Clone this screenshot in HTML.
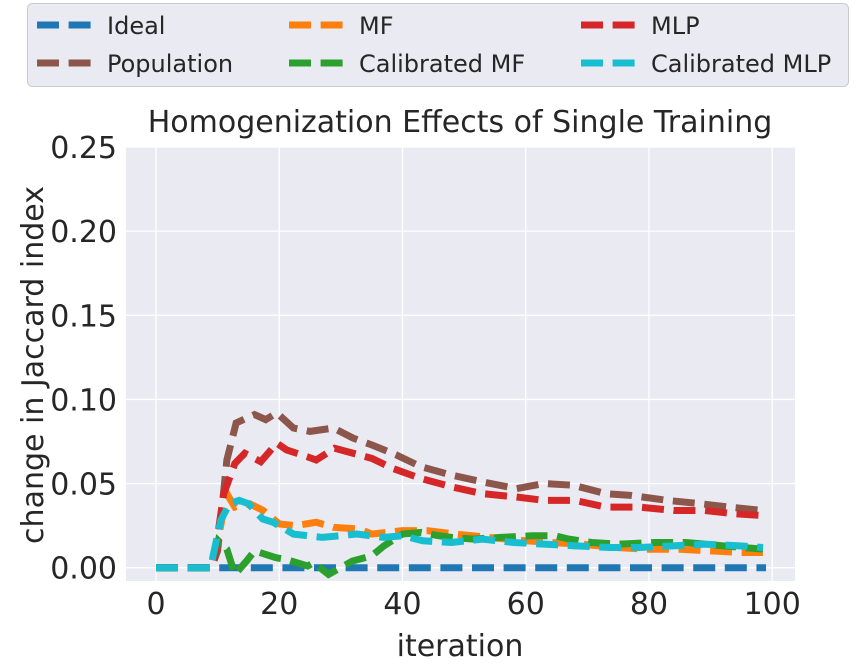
<!DOCTYPE html>
<html><head><meta charset="utf-8">
<style>
body{margin:0;background:#fff;font-family:"DejaVu Sans","Liberation Sans",sans-serif;}
svg text{font-family:"DejaVu Sans","Liberation Sans",sans-serif;fill:#262626;}
</style></head>
<body>
<svg id="chart" width="856" height="668" viewBox="0 0 856 668" xmlns="http://www.w3.org/2000/svg">
<rect x="27.5" y="3.5" width="821" height="83" rx="5" fill="#eaeaf2" stroke="#cccccc"/>
<g id="legend"></g>
<text x="460" y="132" font-size="30" text-anchor="middle">Homogenization Effects of Single Training</text>
<rect x="126" y="147" width="669" height="434" fill="#eaeaf2"/>
<g id="grid"></g>
<g id="series"></g>
<g id="ticks"></g>
<text x="460" y="656" font-size="30" text-anchor="middle">iteration</text>
<text transform="translate(43,365) rotate(-90)" font-size="30" text-anchor="middle">change in Jaccard index</text>
</svg>
<script>
const xTicks=[0,20,40,60,80,100];
const yTicks=[0,0.05,0.10,0.15,0.20,0.25];
const seriesNames=["Ideal","Population","MF","Calibrated MF","MLP","Calibrated MLP"];
const seriesColors=["#1f77b4","#8c564b","#ff7f0e","#2ca02c","#d62728","#17becf"];
const idealX=[0,99];
const idealY=[0,0];
const popX=[0,9,10,11.5,13,16,17.8,19.6,22.3,25,28.8,32,35,39,43,48,53,58.5,63,67.7,73,77,83,88.4,93,98.5];
const popY=[0,0,0.01,0.064,0.086,0.091,0.088,0.092,0.083,0.081,0.083,0.077,0.073,0.067,0.060,0.055,0.051,0.047,0.050,0.049,0.044,0.043,0.040,0.038,0.036,0.034];
const mfX=[0,9,10.5,11.5,12.8,15.2,17.4,20,22.7,26,28.8,33,35,40,44,48.5,54,60,64,69,74.7,79.6,85,90,95,98.5];
const mfY=[0,0,0.025,0.044,0.036,0.038,0.034,0.026,0.025,0.027,0.024,0.023,0.020,0.022,0.022,0.020,0.018,0.016,0.015,0.014,0.012,0.011,0.011,0.010,0.009,0.009];
const calMfX=[0,9,10.1,11.5,12.8,14.7,16,19.4,21,24.6,25.6,28,31.9,35,37,40,43,45.9,48,51.5,56,61,64.7,67,70.7,75,81,86,92,98.5];
const calMfY=[0,0,0.016,0.011,-0.004,0.004,0.010,0.006,0.005,0.001,0.003,-0.004,0.004,0.007,0.013,0.020,0.021,0.019,0.018,0.017,0.018,0.019,0.019,0.017,0.015,0.014,0.015,0.015,0.013,0.011];
const mlpX=[0,9,9.4,11,12.8,14.4,17,19.6,21.2,24.5,26,29,33,35,38.4,43,48,53,58.5,63,68,73,78.5,84,89,94,98.5];
const mlpY=[0,0,0.004,0.044,0.062,0.068,0.063,0.074,0.070,0.066,0.064,0.071,0.067,0.065,0.059,0.053,0.048,0.044,0.042,0.040,0.040,0.036,0.036,0.034,0.034,0.032,0.031];
const calMlpX=[0,9,9.2,10.5,11.9,13.5,15,17.3,19,22.3,27,32.6,37,40,43.3,48,53,58,63,68,73.6,78.5,84,89,94.7,98.5];
const calMlpY=[0,0,0.006,0.028,0.038,0.040,0.038,0.029,0.027,0.020,0.018,0.020,0.018,0.019,0.016,0.015,0.017,0.015,0.014,0.013,0.012,0.012,0.013,0.014,0.013,0.012];

const NS="http://www.w3.org/2000/svg";
const X0=126,X1=795,Y0=147,Y1=581;
const xMin=-4.87,xMax=103.7,yMin=-0.0079,yMax=0.25;
function sx(v){return X0+(v-xMin)/(xMax-xMin)*(X1-X0);}
function sy(v){return Y1-(v-yMin)/(yMax-yMin)*(Y1-Y0);}
const grid=document.getElementById('grid'),ticks=document.getElementById('ticks');
xTicks.forEach(t=>{
  const l=document.createElementNS(NS,'line');
  
  
  l.setAttribute('x1',sx(t));l.setAttribute('x2',sx(t));l.setAttribute('y1',Y0);l.setAttribute('y2',Y1);
  l.setAttribute('stroke','#fff');l.setAttribute('stroke-width','1.3');grid.appendChild(l);
  const tx=document.createElementNS(NS,'text');
  
  
  tx.setAttribute('x',sx(t));tx.setAttribute('y',614);tx.setAttribute('font-size','30');tx.setAttribute('text-anchor','middle');
  tx.textContent=t;ticks.appendChild(tx);
});
yTicks.forEach(t=>{
  const l=document.createElementNS(NS,'line');
  
  
  l.setAttribute('x1',X0);l.setAttribute('x2',X1);l.setAttribute('y1',sy(t));l.setAttribute('y2',sy(t));
  l.setAttribute('stroke','#fff');l.setAttribute('stroke-width','1.3');grid.appendChild(l);
  const tx=document.createElementNS(NS,'text');
  
  
  tx.setAttribute('x',117);tx.setAttribute('y',sy(t)+11);tx.setAttribute('font-size','30');tx.setAttribute('text-anchor','end');
  tx.textContent=t.toFixed(2);ticks.appendChild(tx);
});
const allX=[idealX,popX,mfX,calMfX,mlpX,calMlpX];
const allY=[idealY,popY,mfY,calMfY,mlpY,calMlpY];
const sg=document.getElementById('series');
allX.forEach((xs,i)=>{
  const p=document.createElementNS(NS,'polyline');
  
  
  p.setAttribute('points',xs.map((x,j)=>sx(x)+','+sy(allY[i][j])).join(' '));
  p.setAttribute('fill','none');p.setAttribute('stroke',seriesColors[i]);
  p.setAttribute('stroke-width','7');p.setAttribute('stroke-dasharray','22,9.6');
  sg.appendChild(p);
});
const lg=document.getElementById('legend');
const cols=[37,289,581];
seriesNames.forEach((n,i)=>{
  const c=Math.floor(i/2),r=i%2;
  const x=cols[c],y=25+r*38;
  const g=document.createElementNS(NS,'g');
  
  
  const l=document.createElementNS(NS,'line');
  l.setAttribute('x1',x);l.setAttribute('x2',x+58);l.setAttribute('y1',y);l.setAttribute('y2',y);
  l.setAttribute('stroke',seriesColors[i]);l.setAttribute('stroke-width','7');l.setAttribute('stroke-dasharray','22,9.6');
  g.appendChild(l);
  const t=document.createElementNS(NS,'text');
  t.setAttribute('x',x+70);t.setAttribute('y',y+9);t.setAttribute('font-size','24');
  t.textContent=n;g.appendChild(t);
  lg.appendChild(g);
});
</script>
</body></html>
